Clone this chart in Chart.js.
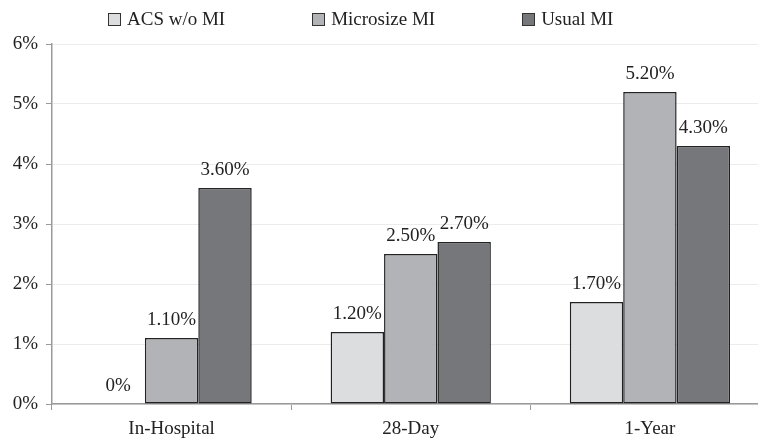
<!DOCTYPE html>
<html>
<head>
<meta charset="utf-8">
<script src="https://cdn.jsdelivr.net/npm/chart.js@4.4.0/dist/chart.umd.min.js"></script>
<style>
  html, body { margin: 0; padding: 0; overflow: hidden; background: #fff; }
  #wrap { position: relative; width: 780px; height: 440px; }
  #legend {
    position: absolute; top: 8px; left: 108px;
    display: flex; gap: 87px;
    font: 19px "Liberation Serif", "Times New Roman", serif; color: #222;
    line-height: 22px;
  }
  .item { display: flex; align-items: center; white-space: nowrap; }
  .box { width: 11px; height: 11px; border: 1px solid #333; margin-right: 6px; }
</style>
</head>
<body>
<div id="wrap">
  <canvas id="chart" width="780" height="440"></canvas>
  <div id="legend"></div>
</div>
<script>
// Data
const categories = ["In-Hospital", "28-Day", "1-Year"];
const seriesNames = ["ACS w/o MI", "Microsize MI", "Usual MI"];
const acsValues = [0, 1.2, 1.7];
const microValues = [1.1, 2.5, 5.2];
const usualValues = [3.6, 2.7, 4.3];
const yTicks = [0, 1, 2, 3, 4, 5, 6];

const colors = ["#dcdddf", "#b2b3b6", "#76777b"];

Chart.defaults.font.family = '"Liberation Serif", "Times New Roman", serif';
Chart.defaults.font.size = 19;
Chart.defaults.color = "#222";

// Value labels above each bar
const barLabels = {
    id: "barLabels",
    afterDatasetsDraw(chart) {
        const ctx = chart.ctx;
        ctx.save();
        ctx.font = '19px "Liberation Serif", "Times New Roman", serif';
        ctx.fillStyle = "#222";
        ctx.textAlign = "center";
        ctx.textBaseline = "alphabetic";
        chart.data.datasets.forEach((ds, i) => {
            const meta = chart.getDatasetMeta(i);
            meta.data.forEach((bar, j) => {
                const v = ds.data[j];
                const text = v === 0 ? "0%" : v.toFixed(2) + "%";
                ctx.fillText(text, bar.x, bar.y - 13);
            });
        });
        ctx.restore();
    }
};

const datasets = [acsValues, microValues, usualValues].map((values, i) => ({
    label: seriesNames[i],
    data: values,
    backgroundColor: colors[i],
    borderColor: "#222",
    borderWidth: 1.5,
    borderSkipped: false,
    barPercentage: 1,
    categoryPercentage: 0.67,
}));

new Chart(document.getElementById("chart"), {
    type: "bar",
    data: { labels: categories, datasets: datasets },
    options: {
        responsive: false,
        animation: false,
        layout: { padding: { top: 44, right: 10.5, left: 0, bottom: 0 } },
        plugins: {
            legend: { display: false },
            tooltip: { enabled: false },
        },
        scales: {
            x: {
                afterFit: (scale) => { scale.height = 36; },
                grid: {
                    offset: true,
                    drawOnChartArea: false,
                    tickLength: 6,
                    tickColor: "#9a9a9a",
                },
                border: { color: "#9a9a9a", width: 1.5 },
                ticks: { padding: 8, color: "#222" },
            },
            y: {
                min: 0,
                max: 6,
                afterFit: (scale) => { scale.width = 52; },
                afterBuildTicks: (scale) => {
                    scale.ticks = yTicks.map((v) => ({ value: v }));
                },
                grid: {
                    color: "#ececec",
                    tickColor: "#9a9a9a",
                    tickLength: 6,
                },
                border: { color: "#9a9a9a", width: 1.5 },
                ticks: {
                    padding: 8,
                    color: "#222",
                    callback: (v) => v + "%",
                },
            },
        },
    },
    plugins: [barLabels],
});

// Legend drawn as HTML above the plot
const legend = document.getElementById("legend");
seriesNames.forEach((name, i) => {
    const item = document.createElement("div");
    item.className = "item";
    item.innerHTML = `<span class="box" style="background:${colors[i]}"></span>${name}`;
    legend.appendChild(item);
});
</script>
</body>
</html>
